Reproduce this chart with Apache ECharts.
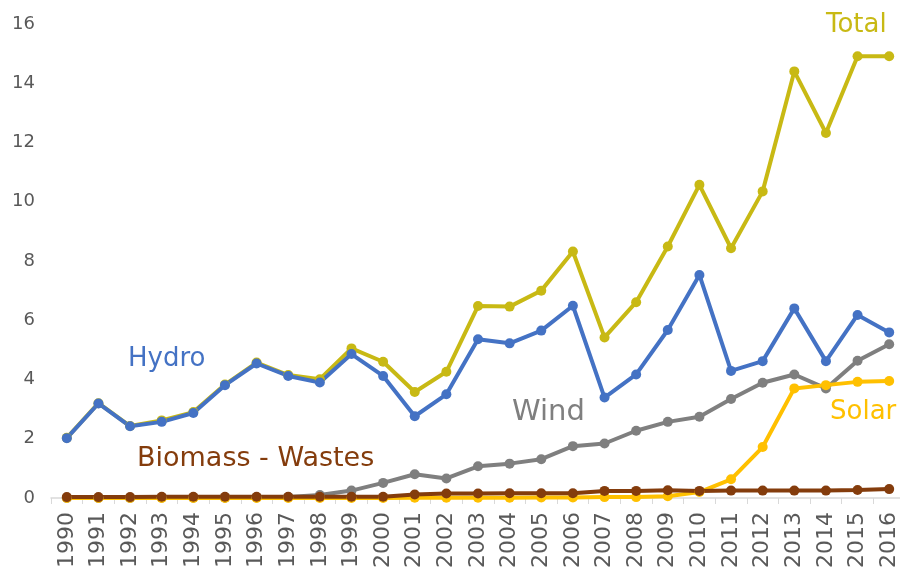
<!DOCTYPE html>
<html>
<head>
<meta charset="utf-8">
<script src="https://cdn.jsdelivr.net/npm/echarts@6/dist/echarts.min.js"></script>
<style>
  html, body { margin: 0; padding: 0; background: #fff; }
  #chart { width: 900px; height: 571px; }
</style>
</head>
<body>
<div id="chart"></div>
<script>
var years = ['1990', '1991', '1992', '1993', '1994', '1995', '1996', '1997', '1998', '1999',
  '2000', '2001', '2002', '2003', '2004', '2005', '2006', '2007', '2008', '2009',
  '2010', '2011', '2012', '2013', '2014', '2015', '2016']

var total = [2.03, 3.2, 2.43, 2.62, 2.9, 3.83, 4.57, 4.15, 4.01, 5.05,
  4.6, 3.58, 4.26, 6.48, 6.46, 7.0, 8.32, 5.42, 6.61, 8.49,
  10.57, 8.43, 10.35, 14.4, 12.32, 14.91, 14.91]
var hydro = [2.02, 3.19, 2.42, 2.57, 2.87, 3.81, 4.54, 4.12, 3.9, 4.86,
  4.12, 2.76, 3.5, 5.36, 5.22, 5.65, 6.49, 3.39, 4.17, 5.67,
  7.53, 4.29, 4.62, 6.4, 4.62, 6.18, 5.59]
var wind = [0, 0, 0, 0.01, 0.01, 0.01, 0.02, 0.03, 0.1, 0.25,
  0.51, 0.8, 0.66, 1.07, 1.16, 1.31, 1.75, 1.84, 2.27, 2.57,
  2.74, 3.34, 3.89, 4.17, 3.7, 4.63, 5.19]
var solar = [0, 0, 0, 0, 0, 0, 0, 0, 0, 0,
  0, 0.01, 0.01, 0.01, 0.01, 0.02, 0.02, 0.03, 0.03, 0.06,
  0.2, 0.63, 1.72, 3.7, 3.81, 3.92, 3.95]
var biomass = [0.03, 0.03, 0.03, 0.04, 0.04, 0.04, 0.04, 0.04, 0.04, 0.04,
  0.04, 0.12, 0.15, 0.15, 0.16, 0.16, 0.16, 0.24, 0.24, 0.26,
  0.24, 0.25, 0.25, 0.25, 0.25, 0.27, 0.3]
var yTicks = [0, 16, 2]

var colors = {
  total: '#C8B914',
  hydro: '#4472C4',
  wind: '#7F7F7F',
  solar: '#FFC000',
  biomass: '#843C0C'
}

function lineSeries(name, data, color) {
  return {
    name: name,
    type: 'line',
    data: data,
    symbol: 'circle',
    symbolSize: 10,
    lineStyle: { width: 4, color: color },
    itemStyle: { color: color },
    animation: false
  }
}

var chart = echarts.init(document.getElementById('chart'))
var font = 'DejaVu Sans'

function tag(text, x, y, color, size) {
  return {
    type: 'text',
    left: x,
    top: y,
    style: { text: text, fill: color, font: size + 'px "' + font + '"' }
  }
}

chart.setOption({
  backgroundColor: '#fff',
  grid: { left: 51, top: 24, width: 854, height: 474, outerBoundsMode: 'none' },
  xAxis: {
    type: 'category',
    data: years,
    boundaryGap: true,
    axisLine: { lineStyle: { color: '#d9d9d9', width: 1.5 } },
    axisTick: { show: true, length: 6, lineStyle: { color: '#d9d9d9' } },
    axisLabel: {
      rotate: 90,
      interval: 0,
      margin: 14,
      color: '#595959',
      fontSize: 22,
      fontFamily: font
    }
  },
  yAxis: {
    type: 'value',
    min: yTicks[0],
    max: yTicks[1],
    interval: yTicks[2],
    axisLine: { show: false },
    axisTick: { show: false },
    splitLine: { show: false },
    axisLabel: { color: '#595959', fontSize: 18, fontFamily: font, margin: 16 }
  },
  series: [
    lineSeries('Total', total, colors.total),
    lineSeries('Hydro', hydro, colors.hydro),
    lineSeries('Wind', wind, colors.wind),
    lineSeries('Solar', solar, colors.solar),
    lineSeries('Biomass - Wastes', biomass, colors.biomass)
  ],
  graphic: [
    tag('Total', 826, 12, colors.total, 26),
    tag('Hydro', 128, 346, colors.hydro, 26),
    tag('Wind', 512, 398, colors.wind, 29),
    tag('Solar', 830, 399, colors.solar, 26),
    tag('Biomass - Wastes', 137, 445, colors.biomass, 27)
  ]
})
</script>
</body>
</html>
